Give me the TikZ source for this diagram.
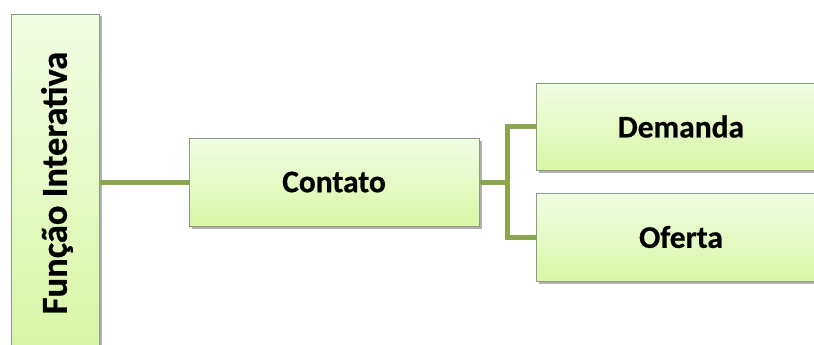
\documentclass[tikz,border=0pt]{standalone}
\usepackage{fontspec}
\setmainfont{Carlito}
\newfontfamily\heavyfont{Carlito}[UprightFont=*-Bold, FakeBold=0.6]
\usetikzlibrary{shadows}
\definecolor{boxtop}{HTML}{F1FDE4}
\definecolor{boxbot}{HTML}{D8F6A6}
\definecolor{boxline}{HTML}{8E9A86}
\definecolor{connc}{HTML}{8AA64E}
\tikzset{
  box/.style={rectangle, draw=boxline, line width=0.9pt, top color=boxtop, bottom color=boxbot,
    drop shadow={shadow xshift=2.5pt, shadow yshift=-2.5pt, fill=black, opacity=0.3},
    font=\fontsize{31.5}{36}\heavyfont, inner sep=0pt},
  conn/.style={draw=connc, line width=5pt, line join=miter}
}
\begin{document}
\begin{tikzpicture}[x=1pt,y=1pt]
\clip (0,0) rectangle (814,-345);
\fill[white] (0,0) rectangle (814,-345);
\node[box, minimum width=88pt, minimum height=336pt] (func) at (55,-182) {};
\node[rotate=90, font=\fontsize{36.5}{40}\heavyfont, inner sep=0pt] (functxt) at (57,-183) {Função Interativa};
\node[box, minimum width=290pt, minimum height=88pt] (contato) at (334,-182) {Contato};
\node[box, minimum width=290pt, minimum height=87pt] (demanda) at (681,-126.5) {Demanda};
\node[box, minimum width=290pt, minimum height=88pt] (oferta) at (681,-237) {Oferta};
\draw[conn] (func.east) -- (contato.west);
\draw[conn] (contato.east) -- ++(28,0) coordinate (j) |- (demanda.west);
\draw[conn] (j) |- (oferta.west);
\end{tikzpicture}
\end{document}
